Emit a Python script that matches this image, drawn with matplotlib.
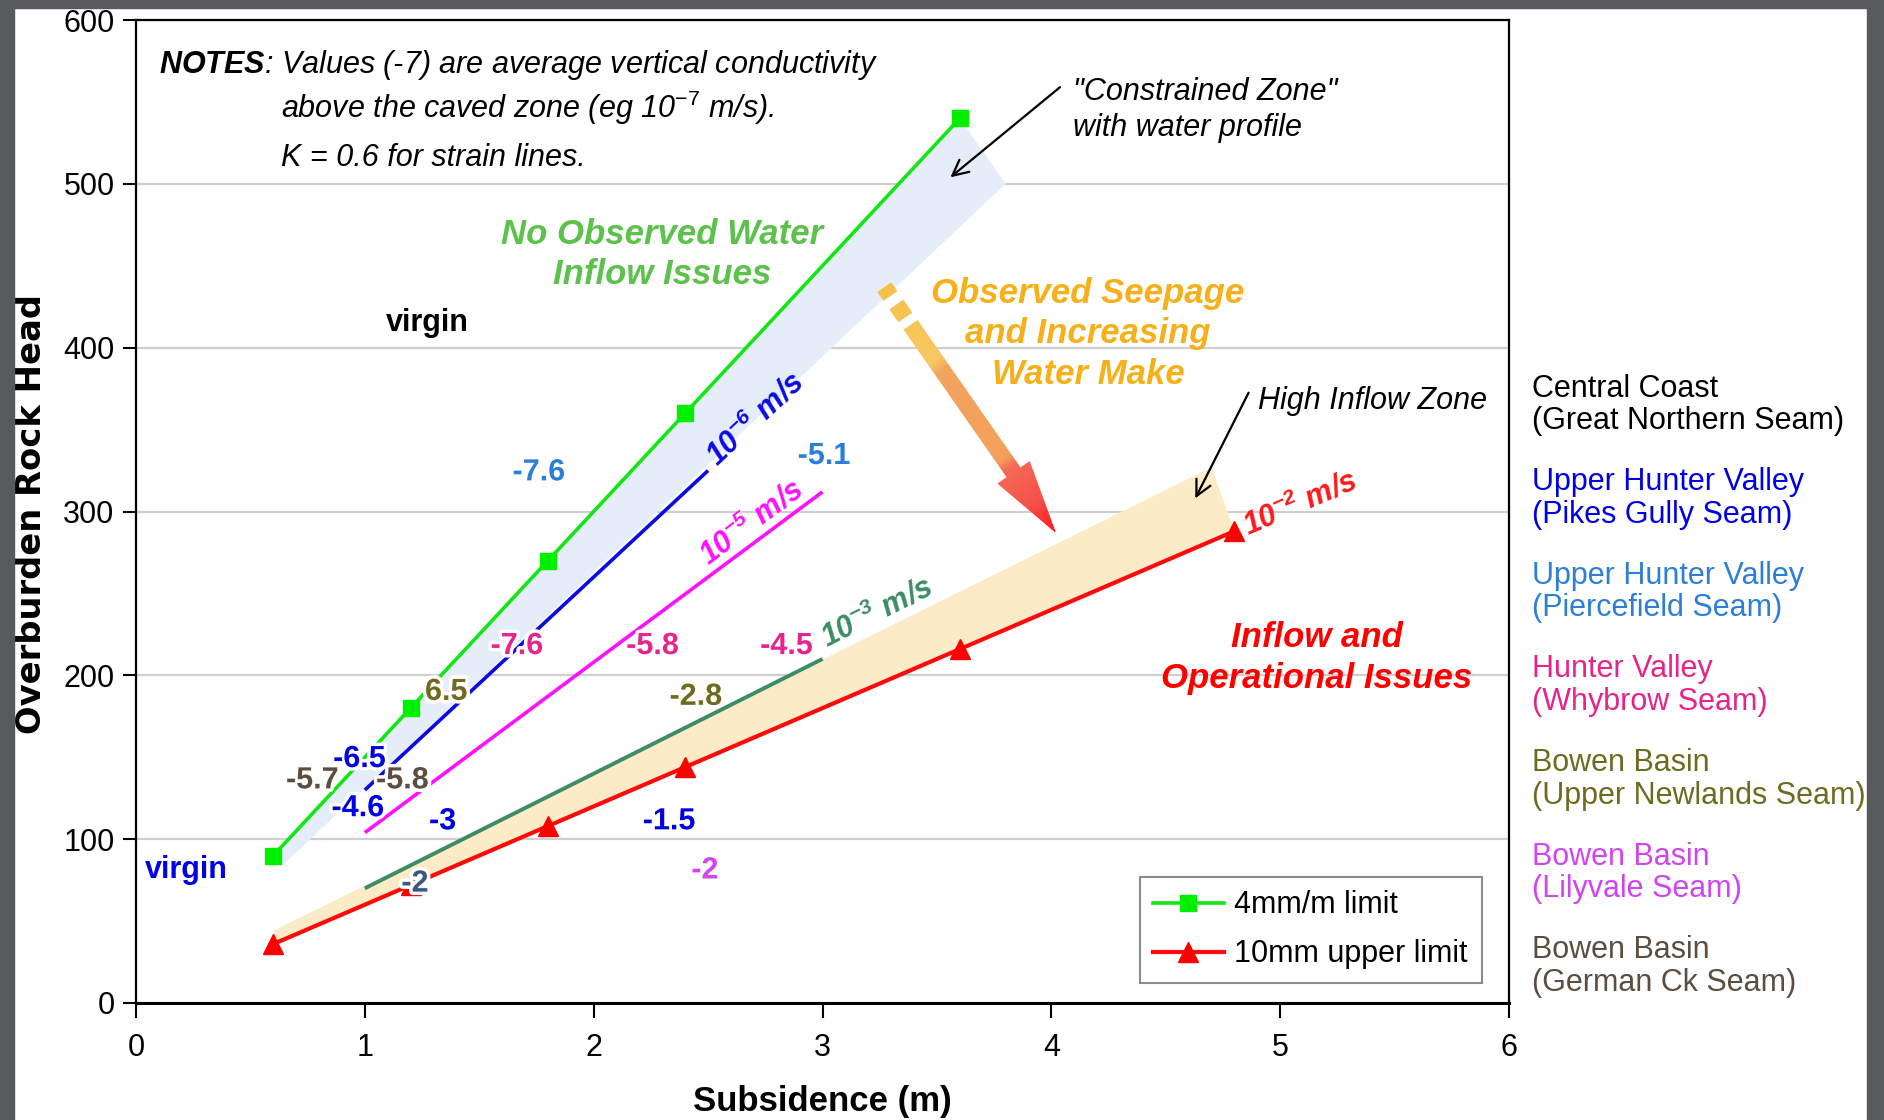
import numpy as np
import matplotlib
matplotlib.use("Agg")
import matplotlib.pyplot as plt
from matplotlib.collections import PolyCollection
from matplotlib.colors import LinearSegmentedColormap
from matplotlib.patches import Polygon, Rectangle
import matplotlib.patheffects as pe

plt.rcParams['font.family'] = ['Liberation Sans', 'DejaVu Sans']
plt.rcParams['mathtext.fontset'] = 'custom'
plt.rcParams['mathtext.rm'] = 'Liberation Sans'
plt.rcParams['mathtext.it'] = 'Liberation Sans:italic'
plt.rcParams['mathtext.bf'] = 'Liberation Sans:italic:bold'

# ---- strain limit lines -------------------------------------------------
subsidence_4mm = [0.6, 1.2, 1.8, 2.4, 3.6]
head_4mm = [90, 180, 270, 360, 540]
subsidence_10mm = [0.6, 1.2, 1.8, 2.4, 3.6, 4.8]
head_10mm = [36, 72, 108, 144, 216, 288]

# ---- conductivity contours (end points) ---------------------------------
k6_x, k6_y = [1.0, 2.5], [130, 325]
k5_x, k5_y = [1.0, 3.0], [104, 312]
k3_x, k3_y = [1.0, 3.0], [70, 210]

# ---- shaded zones ---------------------------------------------------------
constrained_zone_x = [0.6, 3.6, 3.8, 0.64]
constrained_zone_y = [90, 540, 500, 84]
high_inflow_x = [0.6, 0.6, 4.70, 4.8]
high_inflow_y = [36, 44, 327, 288]

# ---- seams ---------------------------------------------------------------
seam_regions = ["Central Coast", "Upper Hunter Valley", "Upper Hunter Valley",
                "Hunter Valley", "Bowen Basin", "Bowen Basin", "Bowen Basin"]
seam_names = ["(Great Northern Seam)", "(Pikes Gully Seam)", "(Piercefield Seam)",
              "(Whybrow Seam)", "(Upper Newlands Seam)", "(Lilyvale Seam)",
              "(German Ck Seam)"]
seam_colors = ["#000000", "#0000E6", "#2B7FD9", "#E6248C", "#6F6B1E",
               "#D045F0", "#5B4D3F"]
C_GN, C_PG, C_PF, C_WB, C_UN, C_LV, C_GC = seam_colors

# measured log10 conductivity values: text, subsidence, head, colour
conductivity_values = [
    ("-7.6", 1.761, 319, C_PF), ("-5.1", 3.007, 329, C_PF),
    ("-7.6", 1.665, 213, C_WB), ("-5.8", 2.258, 213, C_WB), ("-4.5", 2.843, 213, C_WB),
    ("6.5", 1.356, 185, C_UN), ("-2.8", 2.447, 182, C_UN),
    ("-5.7", 0.771, 131, C_GC), ("-5.8", 1.165, 131, C_GC),
    ("-6.5", 0.977, 144, C_PG), ("-4.6", 0.970, 114, C_PG),
    ("-3", 1.340, 106, C_PG), ("-1.5", 2.330, 106, C_PG),
    ("-2", 2.486, 76, C_LV), ("-2", 1.219, 68, "#3D5585"),
]

# ---- figure ---------------------------------------------------------------
W, H = 1884, 1120
fig = plt.figure(figsize=(W / 100, H / 100), dpi=100)
fig.patch.set_facecolor("white")
ax = fig.add_axes([136 / W, 1 - 1003 / H, 1373 / W, 983 / H])
ax.set_xlim(0, 6)
ax.set_ylim(0, 600)
ax.set_xticks(range(0, 7))
ax.set_yticks(range(0, 601, 100))
ax.tick_params(axis='both', direction='out', width=1.5, labelsize=22, colors='black')
ax.tick_params(axis='x', length=11, pad=10.5)
ax.tick_params(axis='y', length=9.5, pad=6)
for s in ax.spines.values():
    s.set_linewidth(1.6)
    s.set_color('black')
ax.spines['bottom'].set_linewidth(2.2)
ax.set_axisbelow(True)
ax.grid(axis='y', color='#CFCFCF', lw=1.6, zorder=0)

# dark frame around the sheet
frame = '#58595B'
fig.add_artist(Rectangle((0, 0), 14 / W, 1, transform=fig.transFigure, color=frame, zorder=10))
fig.add_artist(Rectangle((0, 1 - 8 / H), 1, 8 / H, transform=fig.transFigure, color=frame, zorder=10))
fig.add_artist(Rectangle((1867 / W, 0), 17 / W, 1, transform=fig.transFigure, color=frame, zorder=10))

# zones
ax.add_patch(Polygon(np.column_stack([constrained_zone_x, constrained_zone_y]),
                     closed=True, facecolor='#E5EDF9', edgecolor='none', zorder=1))
ax.add_patch(Polygon(np.column_stack([high_inflow_x, high_inflow_y]),
                     closed=True, facecolor='#FBEBC7', edgecolor='none', zorder=1))

# conductivity contours
ax.plot(k6_x, k6_y, color='#0A0AE6', lw=2.6, solid_capstyle='butt', zorder=3)
ax.plot(k5_x, k5_y, color='#FF10FF', lw=2.6, solid_capstyle='butt', zorder=3)
ax.plot(k3_x, k3_y, color='#3C8C64', lw=2.8, solid_capstyle='butt', zorder=3)

# strain limit lines
l4, = ax.plot(subsidence_4mm, head_4mm, color='#14E614', lw=2.6, marker='s', ms=11,
              mfc='#00F000', mec='#00F000', label='4mm/m limit', zorder=4)
l10, = ax.plot(subsidence_10mm, head_10mm, color='#FF0A0A', lw=3.0, marker='^', ms=14,
               mfc='#FF0000', mec='#FF0000', label='10mm upper limit', zorder=4)

leg = ax.legend(handles=[l4, l10], loc='lower right', bbox_to_anchor=(0.980, 0.0203),
                borderaxespad=0, frameon=True, fancybox=False, edgecolor='#8C8C8C',
                framealpha=1, fontsize=22, handlelength=2.3, handletextpad=0.35,
                labelspacing=0.62, borderpad=0.45)
leg.get_frame().set_linewidth(1.5)
leg.set_zorder(6)


def screen_angle(x, y):
    p = ax.transData.transform(np.column_stack([x, y]))
    return np.degrees(np.arctan2(p[1, 1] - p[0, 1], p[1, 0] - p[0, 0]))


# contour names along the lines
contour_labels = [
    (r"10$^{\mathbf{-6}}$ m/s", 2.71, 356, k6_x, k6_y, '#0A0AE6'),
    (r"10$^{\mathbf{-5}}$ m/s", 2.69, 293, k5_x, k5_y, '#FF10FF'),
    (r"10$^{\mathbf{-3}}$ m/s", 3.24, 238, k3_x, k3_y, '#3C8C64'),
    (r"10$^{\mathbf{-2}}$ m/s", 5.09, 305, subsidence_10mm, head_10mm, '#FF1A1A'),
]
for txt, x, y, lx, ly, c in contour_labels:
    ax.text(x, y, txt, color=c, fontsize=22, fontweight='bold', fontstyle='italic',
            rotation=screen_angle(lx[:2], ly[:2]), rotation_mode='anchor',
            ha='center', va='center', zorder=7)

halo = [pe.withStroke(linewidth=5, foreground='white')]
for txt, x, y, c in conductivity_values:
    ax.text(x, y, txt, color=c, fontsize=22, fontweight='bold', ha='center',
            va='baseline', zorder=7, path_effects=halo)

ax.text(1.274, 410, "virgin", color='black', fontsize=22, fontweight='bold',
        ha='center', va='baseline', zorder=7)
ax.text(0.222, 76, "virgin", color='#0000E6', fontsize=22, fontweight='bold',
        ha='center', va='baseline', zorder=7)

# zone titles
zone_titles = [
    (["No Observed Water", "Inflow Issues"], 2.30, [463, 439], '#5CC24C'),
    (["Observed Seepage", "and Increasing", "Water Make"], 4.16, [427, 403, 378], '#F5B01A'),
    (["Inflow and", "Operational Issues"], 5.16, [217, 192], '#FF0000'),
]
for lines, x, ys, c in zone_titles:
    for line, y in zip(lines, ys):
        ax.text(x, y, line, color=c, fontsize=25, fontweight='bold', fontstyle='italic',
                ha='center', va='baseline', zorder=7)

# notes
ax.text(0.10, 567.5, r"$\mathbf{NOTES}$: Values (-7) are average vertical conductivity",
        fontsize=22, fontstyle='italic', ha='left', va='baseline', zorder=7)
ax.text(0.632, 540, r"above the caved zone (eg 10$^{\mathit{-7}}$ m/s).",
        fontsize=22, fontstyle='italic', ha='left', va='baseline', zorder=7)
ax.text(0.632, 511, "K = 0.6 for strain lines.",
        fontsize=22, fontstyle='italic', ha='left', va='baseline', zorder=7)

# callouts
ax.text(4.093, 551, '"Constrained Zone"', fontsize=22, fontstyle='italic', va='baseline', zorder=7)
ax.text(4.093, 529.5, 'with water profile', fontsize=22, fontstyle='italic', va='baseline', zorder=7)
ax.annotate('', xy=(3.559, 504), xytext=(4.038, 559),
            arrowprops=dict(arrowstyle='->', color='black', lw=1.6, mutation_scale=28,
                            shrinkA=0, shrinkB=0), zorder=7)
ax.text(4.903, 362.6, 'High Inflow Zone', fontsize=22, fontstyle='italic', va='baseline', zorder=7)
ax.annotate('', xy=(4.629, 308), xytext=(4.862, 372.5),
            arrowprops=dict(arrowstyle='->', color='black', lw=1.6, mutation_scale=28,
                            shrinkA=0, shrinkB=0), zorder=7)


# gradient arrow from the seepage zone towards the high inflow zone
def gradient_arrow(start, tip, pieces, head_from, body_hw, head_hw, cmap, n=240):
    p0 = ax.transData.transform(start)
    p1 = ax.transData.transform(tip)
    d = p1 - p0
    L = np.hypot(*d)
    u = d / L
    nrm = np.array([-u[1], u[0]])
    inv = ax.transData.inverted()
    polys, cols = [], []
    edges = np.linspace(0, L, n + 1)
    for a, b in zip(edges[:-1], edges[1:]):
        m = 0.5 * (a + b)
        if m >= head_from:
            hw_a = head_hw * (L - a) / (L - head_from)
            hw_b = head_hw * (L - b) / (L - head_from)
        elif any(s0 <= m < s1 for s0, s1 in pieces):
            hw_a = hw_b = body_hw
        else:
            continue
        q = [p0 + u * a + nrm * hw_a, p0 + u * b + nrm * hw_b,
             p0 + u * b - nrm * hw_b, p0 + u * a - nrm * hw_a]
        polys.append(inv.transform(np.array(q)))
        cols.append(cmap(m / L))
    pc = PolyCollection(polys, facecolors=cols, edgecolors=cols, linewidths=0.6, zorder=2)
    ax.add_collection(pc)


arrow_cmap = LinearSegmentedColormap.from_list('seep', [
    (0.0, '#F6C04A'), (0.30, '#F7C862'), (0.34, '#F2A35D'), (0.70, '#F3A05B'),
    (0.74, '#F46A55'), (0.88, '#F65048'), (1.0, '#FF1A1A')])
gradient_arrow((3.271, 436.7), (4.016, 287.7),
               pieces=[(0, 10), (20.5, 36), (46, 226)], head_from=226,
               body_hw=8, head_hw=19, cmap=arrow_cmap)

# axis titles
ax.set_xlabel('Subsidence (m)', fontsize=25, fontweight='bold')
ax.xaxis.set_label_coords(0.5, -0.083)
ax.set_ylabel('Overburden Rock Head', fontsize=24.3, fontweight='bold', family='DejaVu Sans')
ax.yaxis.set_label_coords(-0.064, 0.497)

# seam colour key
for k, (reg, nm, c) in enumerate(zip(seam_regions, seam_names, seam_colors)):
    b = 396.7 + 93.6 * k
    fig.text(1532 / W, 1 - b / H, reg, color=c, fontsize=22, va='baseline', ha='left')
    fig.text(1532 / W, 1 - (b + 32.5) / H, nm, color=c, fontsize=22, va='baseline', ha='left')

fig.savefig('out.png', dpi=100, facecolor='white')
